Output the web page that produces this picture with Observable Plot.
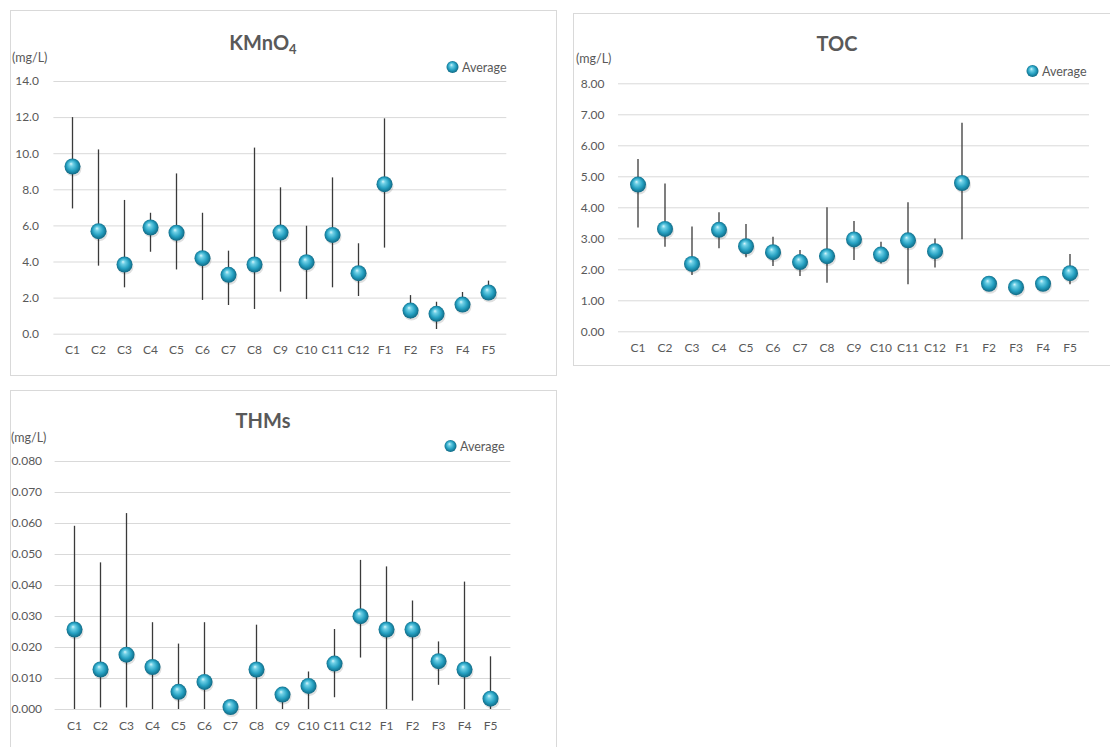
<!DOCTYPE html>
<html>
<head>
<meta charset="utf-8">
<script src="https://cdn.jsdelivr.net/npm/d3@7"></script>
<script src="https://cdn.jsdelivr.net/npm/@observablehq/plot@0.6"></script>
<style>
  html, body { margin: 0; padding: 0; background: #fff; }
  body { width: 1110px; height: 747px; position: relative; overflow: hidden; font-family: Lato, "Open Sans", sans-serif; color: #595959; }
  .panel { position: absolute; border: 1px solid #d9d9d9; box-sizing: border-box; background: #fff; }
  .abs { position: absolute; white-space: nowrap; }
  .title { font-weight: bold; font-size: 20px; color: #595959; transform: translate(-50%, -50%); }
  .unit { font-size: 12.5px; transform: translateY(-50%); }
  .legend { font-size: 12.5px; transform: translateY(-50%); display: flex; align-items: center; gap: 3px; }
  .chart { position: absolute; }
</style>
</head>
<body>
<svg width="0" height="0" style="position:absolute">
  <defs>
    <radialGradient id="ball" cx="50%" cy="50%" r="55%" fx="40%" fy="32%">
      <stop offset="0%" stop-color="#d8f6fc"/>
      <stop offset="22%" stop-color="#6fd0e6"/>
      <stop offset="60%" stop-color="#25a0c1"/>
      <stop offset="100%" stop-color="#0b5d77"/>
    </radialGradient>
  </defs>
</svg>

<div class="panel" style="left:10px;top:10px;width:547px;height:366px"></div>
<div class="panel" style="left:573px;top:13px;width:545px;height:353px"></div>
<div class="panel" style="left:10px;top:390px;width:547px;height:370px"></div>

<div id="c1" class="chart" style="left:10px;top:10px"></div>
<div id="c2" class="chart" style="left:573px;top:13px"></div>
<div id="c3" class="chart" style="left:10px;top:390px"></div>

<div class="abs title" style="left:263px;top:43px">KMnO<sub style="font-size:13px;vertical-align:-4px">4</sub></div>
<div class="abs title" style="left:837px;top:43px">TOC</div>
<div class="abs title" style="left:263px;top:420px">THMs</div>

<div class="abs unit" style="left:12px;top:57px">(mg/L)</div>
<div class="abs unit" style="left:576px;top:58px">(mg/L)</div>
<div class="abs unit" style="left:11px;top:437px">(mg/L)</div>

<div class="abs legend" style="left:446px;top:67px"><svg width="13" height="13"><circle cx="6.5" cy="6.5" r="6" fill="url(#ball)"/></svg>Average</div>
<div class="abs legend" style="left:1026px;top:71px"><svg width="13" height="13"><circle cx="6.5" cy="6.5" r="6" fill="url(#ball)"/></svg>Average</div>
<div class="abs legend" style="left:444px;top:446px"><svg width="13" height="13"><circle cx="6.5" cy="6.5" r="6" fill="url(#ball)"/></svg>Average</div>

<script>
// Sampling sites
const sites = ["C1","C2","C3","C4","C5","C6","C7","C8","C9","C10","C11","C12","F1","F2","F3","F4","F5"];

// KMnO4 consumption (mg/L): average, minimum, maximum
const kmnoAvg = [9.29, 5.71, 3.86, 5.91, 5.62, 4.21, 3.29, 3.86, 5.63, 3.99, 5.50, 3.38, 8.31, 1.31, 1.13, 1.64, 2.31];
const kmnoMin = [6.94, 3.77, 2.57, 4.54, 3.56, 1.87, 1.59, 1.37, 2.33, 1.92, 2.57, 2.09, 4.77, 0.85, 0.26, 1.31, 1.87];
const kmnoMax = [12.0, 10.21, 7.41, 6.70, 8.88, 6.70, 4.60, 10.31, 8.11, 5.98, 8.66, 5.01, 11.93, 2.14, 1.77, 2.31, 2.94];
const kmnoTicks = [0, 2, 4, 6, 8, 10, 12, 14];

// TOC (mg/L): average, minimum, maximum
const tocAvg = [4.75, 3.32, 2.19, 3.29, 2.76, 2.57, 2.25, 2.44, 2.98, 2.49, 2.95, 2.60, 4.80, 1.55, 1.44, 1.55, 1.89];
const tocMin = [3.35, 2.73, 1.82, 2.68, 2.39, 2.11, 1.78, 1.57, 2.30, 2.19, 1.52, 2.06, 2.97, 1.50, 1.40, 1.50, 1.52];
const tocMax = [5.56, 4.77, 3.38, 3.84, 3.46, 3.05, 2.62, 4.00, 3.56, 2.89, 4.16, 2.99, 6.73, 1.60, 1.48, 1.60, 2.49];
const tocTicks = [0, 1, 2, 3, 4, 5, 6, 7, 8];

// THMs (mg/L): average, minimum, maximum
const thmAvg = [0.0258, 0.0129, 0.0177, 0.0137, 0.0057, 0.0089, 0.0008, 0.0129, 0.0048, 0.0076, 0.0148, 0.0301, 0.0258, 0.0258, 0.0156, 0.0129, 0.0035];
const thmMin = [0.0, 0.0005, 0.0005, 0.0, 0.0, 0.0, 0.0005, 0.0, 0.0, 0.0, 0.0038, 0.0166, 0.0, 0.0027, 0.0078, 0.0, 0.0];
const thmMax = [0.0591, 0.0473, 0.0632, 0.0280, 0.0211, 0.0280, 0.0010, 0.0272, 0.0050, 0.0121, 0.0258, 0.0481, 0.0460, 0.0350, 0.0218, 0.0411, 0.0170];
const thmTicks = [0, 0.01, 0.02, 0.03, 0.04, 0.05, 0.06, 0.07, 0.08];

function rows(avg, lo, hi) {
  return sites.map((s, i) => ({site: s, avg: avg[i], lo: lo[i], hi: hi[i]}));
}

function chart({data, ticks, fmt, width, height, mt, mr, mb, ml, xPad, yPad}) {
  return Plot.plot({
    width, height,
    marginTop: mt, marginRight: mr, marginBottom: mb, marginLeft: ml,
    style: {fontFamily: "Lato, 'Open Sans', sans-serif", fontSize: "12px", color: "#595959", background: "transparent", overflow: "visible"},
    x: {type: "band", domain: sites, padding: 0, label: null},
    y: {domain: [0, ticks[ticks.length - 1]], label: null},
    marks: [
      Plot.gridY(ticks, {stroke: "#d9d9d9", strokeOpacity: 1, strokeWidth: 1}),
      Plot.ruleX(data, {x: "site", y1: "lo", y2: "hi", stroke: "#3a3a3a", strokeWidth: 1.3}),
      Plot.dot(data, {x: "site", y: "avg", r: 8, fill: "#000", fillOpacity: 0.12, dx: 1, dy: 2, stroke: "none"}),
      Plot.dot(data, {x: "site", y: "avg", r: 8, fill: "url(#ball)", stroke: "none"}),
      Plot.axisX({tickSize: 0, tickPadding: xPad, fill: "#595959"}),
      Plot.axisY(ticks, {tickSize: 0, tickPadding: yPad, tickFormat: d3.format(fmt), fill: "#595959"})
    ]
  });
}

document.getElementById("c1").append(chart({
  data: rows(kmnoAvg, kmnoMin, kmnoMax), ticks: kmnoTicks, fmt: ".1f",
  width: 546, height: 365, mt: 71, mr: 49.7, mb: 41.3, ml: 43.4, xPad: 11, yPad: 15
}));

document.getElementById("c2").append(chart({
  data: rows(tocAvg, tocMin, tocMax), ticks: tocTicks, fmt: ".2f",
  width: 537, height: 352, mt: 70.3, mr: 21, mb: 33.7, ml: 45, xPad: 12, yPad: 14
}));

document.getElementById("c3").append(chart({
  data: rows(thmAvg, thmMin, thmMax), ticks: thmTicks, fmt: ".3f",
  width: 546, height: 357, mt: 71, mr: 45.6, mb: 38, ml: 44.6, xPad: 12, yPad: 13
}));
</script>
</body>
</html>
